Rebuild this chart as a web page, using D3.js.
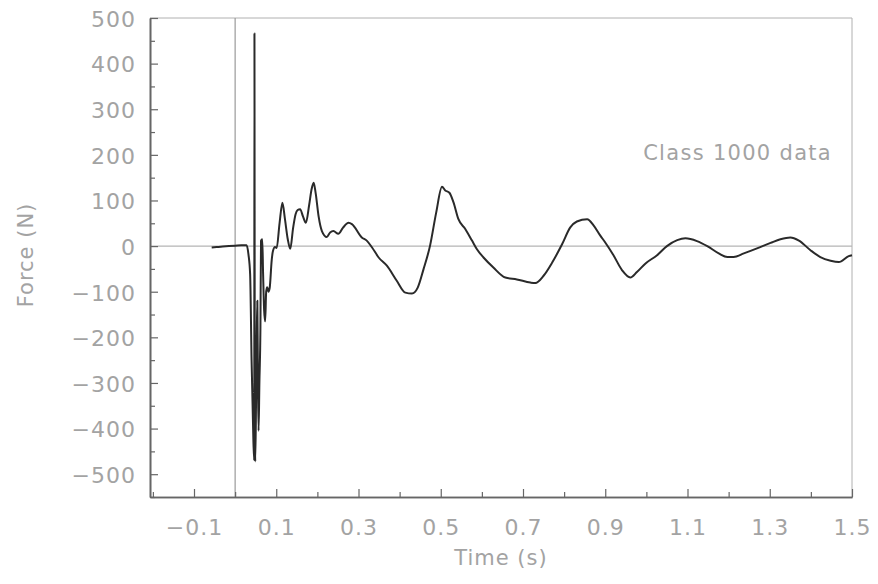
<!DOCTYPE html>
<html>
<head>
<meta charset="utf-8">
<script src="https://cdn.jsdelivr.net/npm/d3@7"></script>
<style>
  html, body { margin: 0; padding: 0; background: #fff; }
  svg text { font-family: "DejaVu Sans", sans-serif; fill: #a3a3a3; }
</style>
</head>
<body>
<svg id="chart" width="878" height="584"></svg>
<script>
// ---- data ----
const timeS = [
  -0.057, -0.045, -0.030, -0.015, 0.000, 0.015, 0.028,
  0.0324, 0.0365, 0.040, 0.0445, 0.0465, 0.047, 0.0478, 0.049, 0.051, 0.0525, 0.054,
  0.0555, 0.057, 0.059, 0.0615, 0.063, 0.066, 0.068, 0.0705, 0.073, 0.0755, 0.078,
  0.081, 0.084, 0.089, 0.092, 0.097, 0.101, 0.108, 0.115, 0.121, 0.128, 0.134,
  0.141, 0.147, 0.152, 0.158, 0.165, 0.172, 0.180, 0.186, 0.191, 0.196, 0.203,
  0.211, 0.223, 0.231, 0.239, 0.251, 0.262, 0.276, 0.284, 0.308, 0.320, 0.333,
  0.349, 0.369, 0.393, 0.414, 0.430, 0.444, 0.458, 0.474, 0.489, 0.503, 0.511,
  0.521, 0.531, 0.543, 0.560, 0.576, 0.588, 0.604, 0.628, 0.657, 0.685, 0.718,
  0.730, 0.750, 0.771, 0.795, 0.815, 0.831, 0.856, 0.872, 0.888, 0.900, 0.920,
  0.941, 0.961, 0.977, 0.998, 1.026, 1.050, 1.075, 1.095, 1.123, 1.148, 1.176,
  1.197, 1.212, 1.237, 1.269, 1.302, 1.326, 1.350, 1.371, 1.399, 1.423, 1.448,
  1.468, 1.492, 1.500
];
const forceN = [
  -3, -2, -1, 0, 1, 2, 2,
  -18, -62, -250, -430, -470, 466, -380, -472, -330, -200, -120,
  -300, -405, -300, -180, 12, 15, -60, -140, -165, -100, -90,
  -100, -92, -30, -11, -2, -4, 50, 95, 60, 15, -6,
  40, 70, 79, 81, 65, 51, 90, 125, 139, 115, 65,
  33, 20, 30, 33, 27, 40, 51, 48, 19, 12, -3,
  -25, -43, -76, -102, -104, -91, -51, 1, 74, 130, 122,
  117, 96, 59, 37, 12, -7, -25, -47, -69, -73, -80,
  -81, -65, -36, 4, 41, 54, 59, 45, 23, 8, -20,
  -53, -69, -57, -38, -20, 0, 13, 17, 11, 0, -16,
  -24, -24, -16, -5, 7, 15, 19, 12, -9, -24, -32,
  -35, -22, -20
];
const yMajorTicks = [-500, -400, -300, -200, -100, 0, 100, 200, 300, 400, 500];
const yMinorTicks = [-550, -450, -350, -250, -150, -50, 50, 150, 250, 350, 450];
const xMajorTicks = [-0.1, 0.1, 0.3, 0.5, 0.7, 0.9, 1.1, 1.3, 1.5];
const xMinorTicks = [-0.2, 0.0, 0.2, 0.4, 0.6, 0.8, 1.0, 1.2, 1.4];
const xLabel = "Time (s)";
const yLabel = "Force (N)";
const annotation = "Class 1000 data";

// ---- layout ----
const W = 878, H = 584;
const m = { left: 150, top: 18, right: 26, bottom: 87 };
const svg = d3.select("#chart");

const x = d3.scaleLinear().domain([-0.207, 1.5]).range([m.left, W - m.right]);
const y = d3.scaleLinear().domain([-550, 500]).range([H - m.bottom, m.top]);

const fmtX = v => (v < 0 ? "\u2212" : "") + Math.abs(v).toFixed(1);
const fmtY = v => (v < 0 ? "\u2212" : "") + Math.abs(v);

// frame: top/right light
svg.append("line").attr("x1", x.range()[0]).attr("x2", x.range()[1])
  .attr("y1", m.top).attr("y2", m.top).attr("stroke", "#b0b0b0").attr("stroke-width", 1);
svg.append("line").attr("x1", x.range()[1]).attr("x2", x.range()[1])
  .attr("y1", m.top).attr("y2", H - m.bottom).attr("stroke", "#b0b0b0").attr("stroke-width", 1);

// reference lines
svg.append("line").attr("x1", x.range()[0]).attr("x2", x.range()[1])
  .attr("y1", y(0)).attr("y2", y(0)).attr("stroke", "#b5b5b5").attr("stroke-width", 1.2);
svg.append("line").attr("x1", x(0)).attr("x2", x(0))
  .attr("y1", m.top).attr("y2", H - m.bottom).attr("stroke", "#9a9a9a").attr("stroke-width", 1.2);

// axes
const axisY = svg.append("g").attr("transform", `translate(${m.left},0)`)
  .call(d3.axisLeft(y).tickValues(yMajorTicks).tickSizeInner(-8).tickSizeOuter(0).tickPadding(14).tickFormat(fmtY));
axisY.selectAll(".tick text").attr("font-size", 22).attr("letter-spacing", 1).attr("dy", "0.38em").attr("fill", "#a3a3a3");
svg.append("g").attr("transform", `translate(${m.left},0)`)
  .call(d3.axisLeft(y).tickValues(yMinorTicks).tickSizeInner(-5).tickSizeOuter(0).tickFormat(""));

const axisX = svg.append("g").attr("transform", `translate(0,${H - m.bottom})`)
  .call(d3.axisBottom(x).tickValues(xMajorTicks).tickSizeInner(-8).tickSizeOuter(0).tickPadding(22).tickFormat(fmtX));
axisX.selectAll(".tick text").attr("font-size", 22).attr("letter-spacing", 1).attr("fill", "#a3a3a3");
svg.append("g").attr("transform", `translate(0,${H - m.bottom})`)
  .call(d3.axisBottom(x).tickValues(xMinorTicks).tickSizeInner(-5).tickSizeOuter(0).tickFormat(""));

svg.selectAll(".domain").attr("stroke", "#666").attr("stroke-width", 1.6);
svg.selectAll(".tick line").attr("stroke", "#666").attr("stroke-width", 1.2);

// data line
const pts = timeS.map((t, i) => [t, forceN[i]]);
svg.append("path").datum(pts)
  .attr("fill", "none").attr("stroke", "#2a2a2a").attr("stroke-width", 2)
  .attr("stroke-linejoin", "round")
  .attr("d", d3.line().curve(d3.curveMonotoneX).x(d => x(d[0])).y(d => y(d[1])));

// labels
svg.append("text").attr("x", 501).attr("y", 565).attr("text-anchor", "middle")
  .attr("font-size", 21).attr("letter-spacing", 1).text(xLabel);
svg.append("text").attr("transform", "translate(33,255) rotate(-90)").attr("text-anchor", "middle")
  .attr("font-size", 21).attr("letter-spacing", 1).text(yLabel);
svg.append("text").attr("x", 832).attr("y", 160).attr("text-anchor", "end")
  .attr("font-size", 21).attr("letter-spacing", 1.3).text(annotation);
</script>
</body>
</html>
